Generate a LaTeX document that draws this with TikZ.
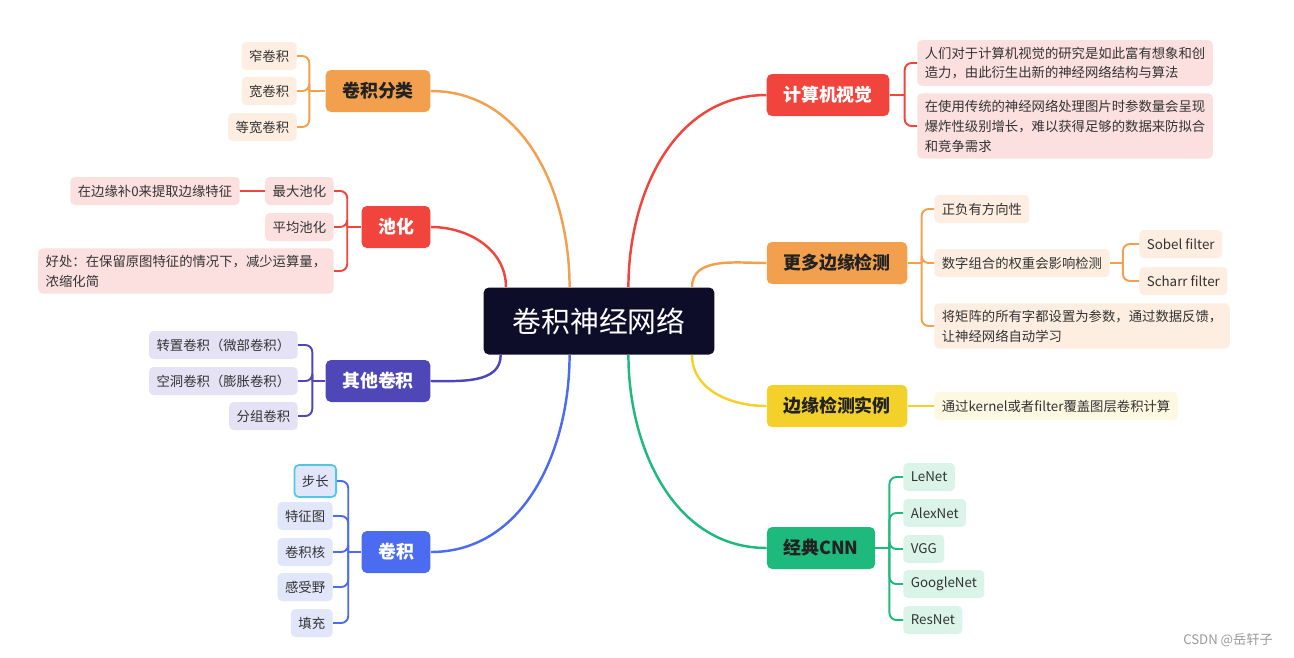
\documentclass[tikz,border=0pt]{standalone}
\usepackage{fontspec}
\setmainfont{Noto Sans CJK SC}
\usepackage{xcolor}
\usepackage{tikz}
\usetikzlibrary{positioning}

\definecolor{rootbg}{HTML}{0D0C29}
\definecolor{orgdark}{HTML}{F3A04E}
\definecolor{orglight}{HTML}{FDEEE1}
\definecolor{reddark}{HTML}{F1443C}
\definecolor{redlight}{HTML}{FCE0E0}
\definecolor{inddark}{HTML}{4F47B8}
\definecolor{indlight}{HTML}{E4E2F4}
\definecolor{bluedark}{HTML}{4B6BF0}
\definecolor{bluelight}{HTML}{E2E6FA}
\definecolor{yeldark}{HTML}{F3D12A}
\definecolor{yellight}{HTML}{FDF8E1}
\definecolor{grndark}{HTML}{1EB97D}
\definecolor{grnlight}{HTML}{DBF4EA}
\definecolor{stepcyan}{HTML}{52C6E6}
\definecolor{inkdark}{HTML}{222222}

\tikzset{
    root/.style={fill=rootbg, text=white, rounded corners=3pt, minimum height=1.34cm,
        inner xsep=0.58cm, font=\fontsize{16.4}{20}\selectfont},
    topic/.style={fill=#1, rounded corners=3pt, minimum height=0.84cm, inner xsep=0.33cm,
        font=\fontsize{10.2}{12}\selectfont\bfseries},
    leaf/.style={fill=#1, rounded corners=2.5pt, minimum height=0.56cm, inner xsep=0.15cm,
        inner ysep=0.13cm, align=left, text=black!80, font=\fontsize{7.6}{11.3}\selectfont},
    twig/.style={draw=#1, line width=1.1pt, rounded corners=4pt},
    limb/.style={draw=#1, line width=1.4pt}
}

\begin{document}
\begin{tikzpicture}[x=0.02cm, y=-0.02cm]
    \useasboundingbox (0,0) rectangle (1294,657);

    % centre
    \node[root] (root) at (599,321) {卷积神经网络};

    % left side
    \node[topic=orgdark, text=inkdark] (cls) at (378,91) {卷积分类};
    \node[leaf=orglight, anchor=east] (c1) at (297,56) {窄卷积};
    \node[leaf=orglight, anchor=east] (c2) at (297,91) {宽卷积};
    \node[leaf=orglight, anchor=east] (c3) at (297,127) {等宽卷积};

    \node[topic=reddark, text=white] (pool) at (396,227) {池化};
    \node[leaf=redlight, anchor=east] (p1) at (334,191) {最大池化};
    \node[leaf=redlight, anchor=east] (p2) at (334,227) {平均池化};
    \node[leaf=redlight, anchor=east] (p3) at (334,271)
        {好处：在保留原图特征的情况下，减少运算量，\\浓缩化简};
    \node[leaf=redlight, anchor=east] (p0) at (240,191) {在边缘补0来提取边缘特征};

    \node[topic=inddark, text=white] (other) at (378,381) {其他卷积};
    \node[leaf=indlight, anchor=east] (o1) at (298,345) {转置卷积（微部卷积）};
    \node[leaf=indlight, anchor=east] (o2) at (298,381) {空洞卷积（膨胀卷积）};
    \node[leaf=indlight, anchor=east] (o3) at (298,416) {分组卷积};

    \node[topic=bluedark, text=white] (conv) at (396,552) {卷积};
    \node[leaf=bluelight, draw=stepcyan, line width=1pt, minimum height=0.64cm,
        anchor=east] (v1) at (337,481) {步长};
    \node[leaf=bluelight, anchor=east] (v2) at (333,516) {特征图};
    \node[leaf=bluelight, anchor=east] (v3) at (333,552) {卷积核};
    \node[leaf=bluelight, anchor=east] (v4) at (333,587) {感受野};
    \node[leaf=bluelight, anchor=east] (v5) at (333,623) {填充};

    % right side
    \node[topic=reddark, text=white] (vis) at (828,95) {计算机视觉};
    \node[leaf=redlight, anchor=west] (s1) at (917,63)
        {人们对于计算机视觉的研究是如此富有想象和创\\造力，由此衍生出新的神经网络结构与算法};
    \node[leaf=redlight, anchor=west] (s2) at (917,126)
        {在使用传统的神经网络处理图片时参数量会呈现\\爆炸性级别增长，难以获得足够的数据来防拟合\\和竞争需求};

    \node[topic=orgdark, text=inkdark] (edge) at (837,263) {更多边缘检测};
    \node[leaf=orglight, anchor=west] (e1) at (934,209) {正负有方向性};
    \node[leaf=orglight, anchor=west] (e2) at (934,263) {数字组合的权重会影响检测};
    \node[leaf=orglight, anchor=west] (e3) at (934,326)
        {将矩阵的所有字都设置为参数，通过数据反馈，\\让神经网络自动学习};
    \node[leaf=orglight, anchor=west] (e4) at (1139,244) {Sobel filter};
    \node[leaf=orglight, anchor=west] (e5) at (1139,281) {Scharr filter};

    \node[topic=yeldark, text=inkdark] (demo) at (837,406) {边缘检测实例};
    \node[leaf=yellight, anchor=west] (d1) at (934,406) {通过kernel或者filter覆盖图层卷积计算};

    \node[topic=grndark, text=inkdark] (cnn) at (821,548) {经典CNN};
    \node[leaf=grnlight, anchor=west] (n1) at (903,477) {LeNet};
    \node[leaf=grnlight, anchor=west] (n2) at (903,513) {AlexNet};
    \node[leaf=grnlight, anchor=west] (n3) at (903,549) {VGG};
    \node[leaf=grnlight, anchor=west] (n4) at (903,584) {GoogleNet};
    \node[leaf=grnlight, anchor=west] (n5) at (903,620) {ResNet};

    % main branches
    \draw[limb=orgdark] (cls.east) to[out=0, in=90] (root.131);
    \draw[limb=reddark] (pool.east) to[out=0, in=90] (root.160);
    \draw[limb=inddark] (other.east) to[out=0, in=-90] (root.199);
    \draw[limb=bluedark] (conv.east) to[out=0, in=-90] (root.229);
    \draw[limb=reddark] (root.49) to[out=90, in=180] (vis.west);
    \draw[limb=orgdark] (root.20) to[out=90, in=180] (edge.west);
    \draw[limb=yeldark] (root.340) to[out=-90, in=180] (demo.west);
    \draw[limb=grndark] (root.311) to[out=-90, in=180] (cnn.west);

    % brackets, left
    \draw[twig=orgdark] (cls.west) -- ++(-16,0) coordinate (clsj);
    \foreach \k in {c1,c2,c3} \draw[twig=orgdark] (clsj) |- (\k.east);
    \draw[twig=reddark] (pool.west) -- ++(-14,0) coordinate (poolj);
    \foreach \k in {p1,p2,p3} \draw[twig=reddark] (poolj) |- (\k.east);
    \draw[twig=reddark] (p1.west) -- (p0.east);
    \draw[twig=inddark] (other.west) -- ++(-13,0) coordinate (otherj);
    \foreach \k in {o1,o2,o3} \draw[twig=inddark] (otherj) |- (\k.east);
    \draw[twig=bluedark] (conv.west) -- ++(-13,0) coordinate (convj);
    \foreach \k in {v1,v2,v3,v4,v5} \draw[twig=bluedark] (convj) |- (\k.east);

    % brackets, right
    \draw[twig=reddark] (vis.east) -- ++(15,0) coordinate (visj);
    \foreach \k in {s1,s2} \draw[twig=reddark] (visj) |- (\k.west);
    \draw[twig=orgdark] (edge.east) -- ++(14,0) coordinate (edgej);
    \foreach \k in {e1,e2,e3} \draw[twig=orgdark] (edgej) |- (\k.west);
    \draw[twig=orgdark] (e2.east) -- ++(13,0) coordinate (subj);
    \foreach \k in {e4,e5} \draw[twig=orgdark] (subj) |- (\k.west);
    \draw[twig=yeldark] (demo.east) -- (d1.west);
    \draw[twig=grndark] (cnn.east) -- ++(14,0) coordinate (cnnj);
    \foreach \k in {n1,n2,n3,n4,n5} \draw[twig=grndark] (cnnj) |- (\k.west);

    % watermark
    \node[text=black!40, font=\fontsize{7.5}{9}\selectfont] (mark) at (1228,640) {CSDN @岳轩子};
\end{tikzpicture}
\end{document}
